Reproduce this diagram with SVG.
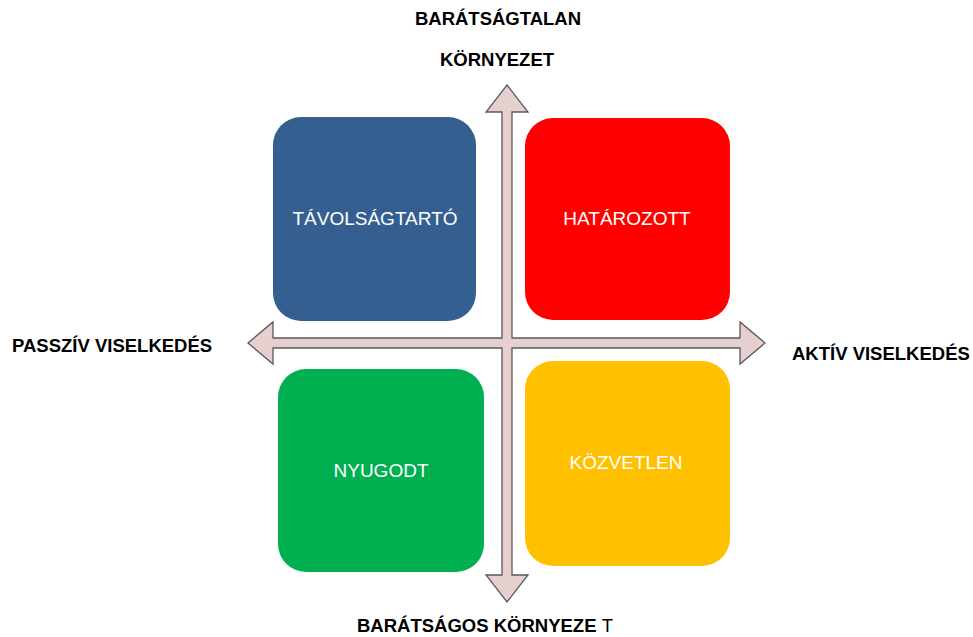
<svg xmlns="http://www.w3.org/2000/svg" width="973" height="637" viewBox="0 0 973 637">
<style>
.box{stroke:none}
.bl{font-family:"Liberation Sans","Open Sans",Arial,sans-serif;font-size:19px;fill:#ffffff;text-anchor:middle}
.ax{font-family:"Liberation Sans","Open Sans",Arial,sans-serif;font-size:18.5px;font-weight:bold;fill:#000000}
.arrow{fill:#E6CFCF;stroke:#595959;stroke-width:1.3;stroke-linejoin:miter}
</style>
<rect width="973" height="637" fill="#ffffff"/>
<g id="connectors">
<path class="arrow" d="M507,85 L528,112 L512,112 L512,338 L740,338 L740,322 L765,343 L740,364 L740,348 L512,348 L512,575 L528,575 L507,602 L486,575 L502,575 L502,348 L273,348 L273,364 L248,343 L273,322 L273,338 L502,338 L502,112 L486,112 Z"/>
</g>
<g id="tavolsagtarto">
<rect class="box" x="273" y="117" width="203" height="204" rx="28" fill="#365F91"/>
<text class="bl" x="375" y="225">TÁVOLSÁGTARTÓ</text>
</g>
<g id="hatarozott">
<rect class="box" x="525" y="118" width="205" height="202" rx="28" fill="#FF0000"/>
<text class="bl" x="627" y="225">HATÁROZOTT</text>
</g>
<g id="nyugodt">
<rect class="box" x="278" y="369" width="206" height="203" rx="28" fill="#00B050"/>
<text class="bl" x="381" y="477">NYUGODT</text>
</g>
<g id="kozvetlen">
<rect class="box" x="525" y="361" width="205" height="205" rx="28" fill="#FFC000"/>
<text class="bl" x="626" y="469">KÖZVETLEN</text>
</g>
<g id="label-top">
<text class="ax" x="498" y="25" text-anchor="middle">BARÁTSÁGTALAN</text>
<text class="ax" x="497" y="66" text-anchor="middle">KÖRNYEZET</text>
</g>
<g id="label-left">
<text class="ax" x="12" y="352">PASSZÍV VISELKEDÉS</text>
</g>
<g id="label-right">
<text class="ax" x="792" y="360">AKTÍV VISELKEDÉS</text>
</g>
<g id="label-bottom">
<text class="ax" x="357" y="632">BARÁTSÁGOS KÖRNYEZE <tspan font-weight="normal">T</tspan></text>
</g>
</svg>
